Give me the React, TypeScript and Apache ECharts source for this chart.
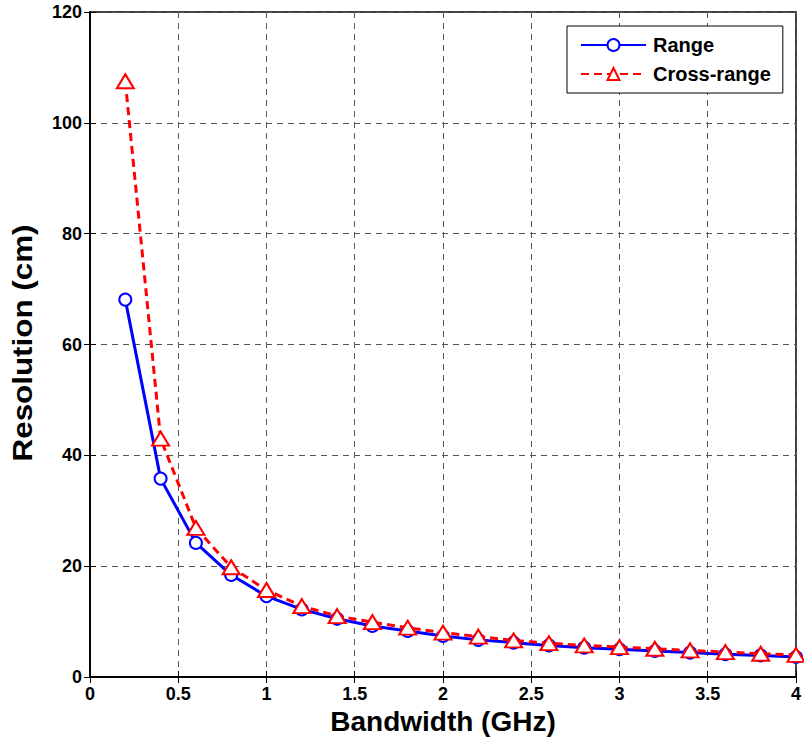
import React, { useEffect, useRef } from "react";
import * as echarts from "echarts";

const bandwidth = [0.2, 0.4, 0.6, 0.8, 1.0, 1.2, 1.4, 1.6, 1.8, 2.0, 2.2, 2.4, 2.6, 2.8, 3.0, 3.2, 3.4, 3.6, 3.8, 4.0];
const rangeRes = [68.1, 35.8, 24.2, 18.4, 14.6, 12.2, 10.5, 9.2, 8.3, 7.4, 6.7, 6.2, 5.7, 5.3, 5.0, 4.7, 4.4, 4.1, 3.9, 3.6];
const crossRes = [107.5, 43.0, 26.9, 19.8, 15.7, 12.8, 11.0, 9.9, 8.9, 8.0, 7.3, 6.6, 6.1, 5.7, 5.4, 5.1, 4.8, 4.5, 4.2, 4.0];
const seriesNames = ["Range", "Cross-range"];
const xName = "Bandwidth (GHz)";
const yName = "Resolution (cm)";

const FONT = "Arial, 'Liberation Sans', Helvetica, sans-serif";

export default function App() {
  const ref = useRef<HTMLDivElement>(null);
  useEffect(() => {
    if (!ref.current) return;
    const chart = echarts.init(ref.current, undefined, { renderer: "svg" });
    const tickLabel = { fontFamily: FONT, fontWeight: "bold" as const, fontSize: 18, color: "#000" };
    const split = { show: true, lineStyle: { color: "#555", type: [6, 5] as any, width: 1 } };
    const tick = { show: true, inside: true, length: 6, lineStyle: { color: "#000", width: 1 } };
    const line = { show: true, lineStyle: { color: "#000", width: 1.5 } };
    chart.setOption({
      animation: false,
      backgroundColor: "#fff",
      grid: { left: 90, top: 12, width: 707, height: 665, show: true, borderColor: "#000", borderWidth: 1.5, backgroundColor: "transparent" },
      legend: {
        left: 567,
        top: 26,
        orient: "vertical",
        backgroundColor: "#fff",
        borderColor: "#000",
        borderWidth: 1,
        padding: [9, 12, 9, 13],
        itemGap: 9,
        itemWidth: 65,
        itemHeight: 15,
        textStyle: { fontFamily: FONT, fontWeight: "bold", fontSize: 20, color: "#000", padding: [0, 0, 0, 2] },
        data: seriesNames,
      },
      graphic: [
        {
          type: "text",
          x: 22,
          y: 343,
          rotation: Math.PI / 2,
          scaleX: 1.12,
          style: {
            text: yName,
            fontFamily: FONT,
            fontWeight: "bold",
            fontSize: 28,
            fill: "#000",
            align: "center",
            verticalAlign: "middle",
          },
        },
      ],
      xAxis: [
        {
          type: "value", min: 0, max: 4, interval: 0.5,
          name: xName, nameLocation: "middle", nameGap: 30,
          nameTextStyle: { fontFamily: FONT, fontWeight: "bold", fontSize: 28, color: "#000" },
          axisLine: line,
          axisTick: tick,
          axisLabel: { ...tickLabel, margin: 8 },
          splitLine: split,
        },
        {
          type: "value", min: 0, max: 4, interval: 0.5, position: "top",
          axisLine: line,
          axisTick: tick,
          axisLabel: { show: false },
          splitLine: { show: false },
        },
      ],
      yAxis: [
        {
          type: "value", min: 0, max: 120, interval: 20,
          axisLine: line,
          axisTick: tick,
          axisLabel: { ...tickLabel, margin: 8 },
          splitLine: split,
        },
        {
          type: "value", min: 0, max: 120, interval: 20, position: "right",
          axisLine: line,
          axisTick: tick,
          axisLabel: { show: false },
          splitLine: { show: false },
        },
      ],
      series: [
        {
          name: seriesNames[0],
          type: "line",
          data: bandwidth.map((b, i) => [b, rangeRes[i]]),
          symbol: "emptyCircle",
          symbolSize: 12,
          color: "#0000ff",
          lineStyle: { color: "#0000ff", width: 3 },
          itemStyle: { color: "#0000ff", borderColor: "#0000ff", borderWidth: 2.5 },
          z: 3,
        },
        {
          name: seriesNames[1],
          type: "line",
          data: bandwidth.map((b, i) => [b, crossRes[i]]),
          symbol: "emptyTriangle",
          symbolSize: [17, 14],
          color: "#ff0000",
          lineStyle: { color: "#ff0000", width: 3, type: [8, 5] },
          itemStyle: { color: "#ff0000", borderColor: "#ff0000", borderWidth: 2.5 },
          z: 4,
        },
      ],
    });
    return () => chart.dispose();
  }, []);
  return <div ref={ref} style={{ position: "fixed", left: 0, top: 0, width: 804, height: 746 }} />;
}
